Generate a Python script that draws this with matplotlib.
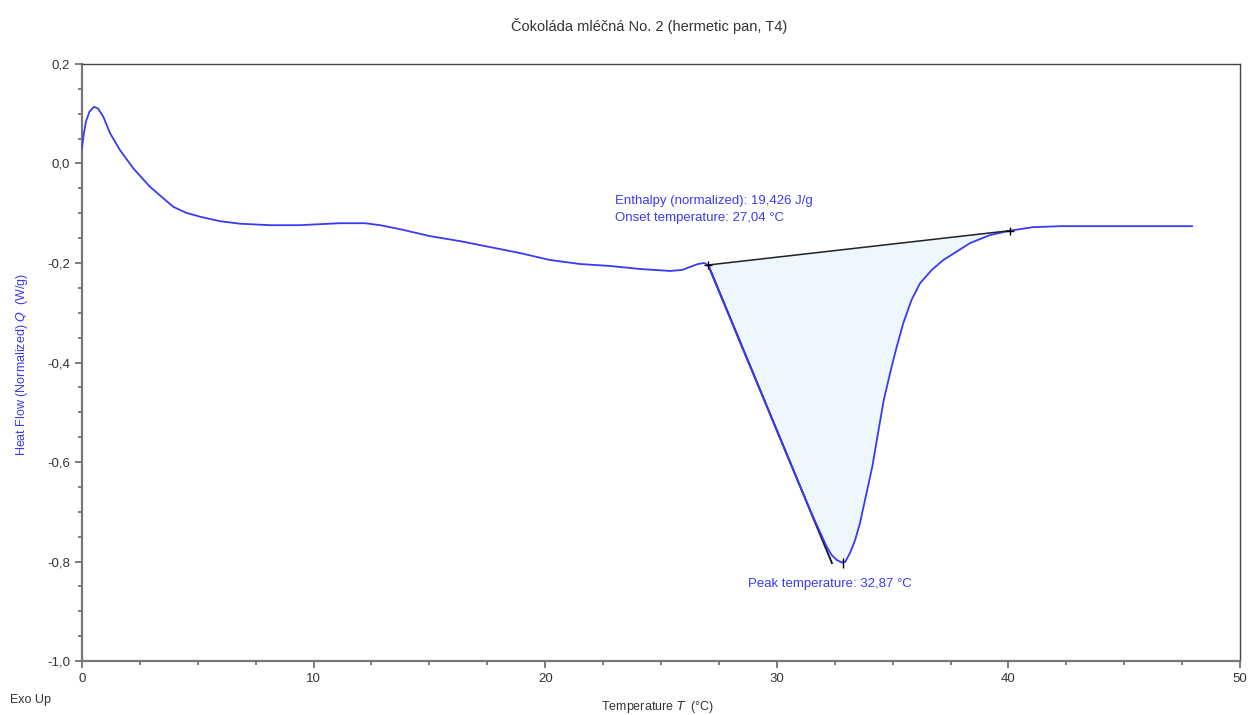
import matplotlib.pyplot as plt
from matplotlib.ticker import MultipleLocator, FuncFormatter

plt.rcParams['font.family'] = ['Liberation Sans', 'DejaVu Sans']

# DSC curve
temp = [0.0, 0.06, 0.17, 0.32, 0.52, 0.70, 0.92, 1.21, 1.64, 2.22, 2.94,
        3.94, 4.49, 5.10, 5.96, 6.82, 8.12, 9.41, 11.14, 12.22, 12.87, 13.73,
        15.03, 16.32, 17.62, 18.91, 20.21, 21.50, 22.80, 24.09, 25.39, 25.91,
        26.25, 26.60, 26.86, 27.03, 28.41, 30.14, 31.43, 32.15, 32.37, 32.59,
        32.80, 32.95, 33.16, 33.38, 33.59, 33.81, 34.12, 34.37, 34.62, 34.96,
        35.18, 35.46, 35.82, 36.18, 36.69, 37.19, 37.77, 38.34, 39.20, 40.07,
        41.06, 42.23, 44.80, 47.93]
heat = [0.031, 0.054, 0.084, 0.104, 0.114, 0.110, 0.094, 0.061, 0.027, -0.010,
        -0.047, -0.087, -0.099, -0.107, -0.116, -0.121, -0.124, -0.124, -0.120,
        -0.120, -0.124, -0.132, -0.146, -0.156, -0.168, -0.180, -0.194, -0.202,
        -0.206, -0.212, -0.216, -0.214, -0.208, -0.202, -0.200, -0.204, -0.359,
        -0.552, -0.696, -0.770, -0.787, -0.797, -0.802, -0.801, -0.783, -0.757,
        -0.723, -0.676, -0.610, -0.542, -0.475, -0.408, -0.368, -0.321, -0.274,
        -0.241, -0.214, -0.194, -0.177, -0.160, -0.144, -0.135, -0.128, -0.126,
        -0.126, -0.126]

# integration baseline and onset tangent
base_t = [27.04, 40.07]
base_q = [-0.204, -0.135]
tang_t = [27.04, 32.38]
tang_q = [-0.204, -0.803]
peak_t, peak_q = 32.86, -0.803

blue = '#3a3af5'
grey = '#333333'

fig = plt.figure(figsize=(12.48, 7.15), dpi=100)
ax = fig.add_axes([0.0657, 0.0755, 0.9279, 0.835])

# shaded peak area between curve and baseline
seg = [(t, q) for t, q in zip(temp, heat) if base_t[0] - 0.05 <= t <= base_t[1] + 0.01]
ax.fill([p[0] for p in seg], [p[1] for p in seg], color='#eef6fe', zorder=1)

ax.plot(temp, heat, color=blue, lw=1.3, zorder=3)
ax.plot(base_t, base_q, color='#222222', lw=1.1, zorder=4)
ax.plot(tang_t, tang_q, color='#1a1a2e', lw=1.4, zorder=2)
ax.plot(base_t, base_q, ls='none', marker='+', ms=6, mew=1.0, color='black', zorder=5)
ax.plot([peak_t], [peak_q], ls='none', marker='|', ms=7, mew=1.0, color='black', zorder=5)

ax.text(23.0, -0.088, 'Enthalpy (normalized): 19,426 J/g', color=blue, fontsize=9.5,
        va='bottom')
ax.text(23.0, -0.121, 'Onset temperature: 27,04 °C', color=blue, fontsize=9.5,
        va='bottom')
ax.text(28.75, -0.858, 'Peak temperature: 32,87 °C', color=blue, fontsize=9.5,
        va='bottom')

ax.set_xlim(0, 50)
ax.set_ylim(-1.0, 0.2)
ax.xaxis.set_major_locator(MultipleLocator(10))
ax.xaxis.set_minor_locator(MultipleLocator(2.5))
ax.yaxis.set_major_locator(MultipleLocator(0.2))
ax.yaxis.set_minor_locator(MultipleLocator(0.05))
ax.yaxis.set_major_formatter(FuncFormatter(lambda v, p: f'{v:.1f}'.replace('.', ',').replace('-0,0', '0,0')))
ax.xaxis.set_major_formatter(FuncFormatter(lambda v, p: f'{v:.0f}'))

ax.tick_params(which='both', direction='out', colors='#666666', labelcolor=grey,
               labelsize=9.5, width=1.2)
ax.tick_params(which='major', length=5)
ax.tick_params(which='minor', length=3)
for side in ['left', 'bottom']:
    ax.spines[side].set_color('#777777')
    ax.spines[side].set_linewidth(1.6)
for side in ['top', 'right']:
    ax.spines[side].set_color('#444444')
    ax.spines[side].set_linewidth(1.0)

fig.text(22 / 1248, 1 - 364 / 715, 'Heat Flow (Normalized) $Q$  (W/g)', color=blue,
         fontsize=9, rotation=90, ha='center', va='center')
fig.text(658 / 1248, 1 - 707 / 715, 'Temperature $T$  (°C)', color=grey,
         fontsize=9, ha='center', va='center')
fig.text(10 / 1248, 1 - 700 / 715, 'Exo Up', color=grey, fontsize=9, va='center')
fig.suptitle('Čokoláda mléčná No. 2 (hermetic pan, T4)', x=0.52, y=0.975,
             color=grey, fontsize=10.5)

fig.savefig('out.png', dpi=100)
